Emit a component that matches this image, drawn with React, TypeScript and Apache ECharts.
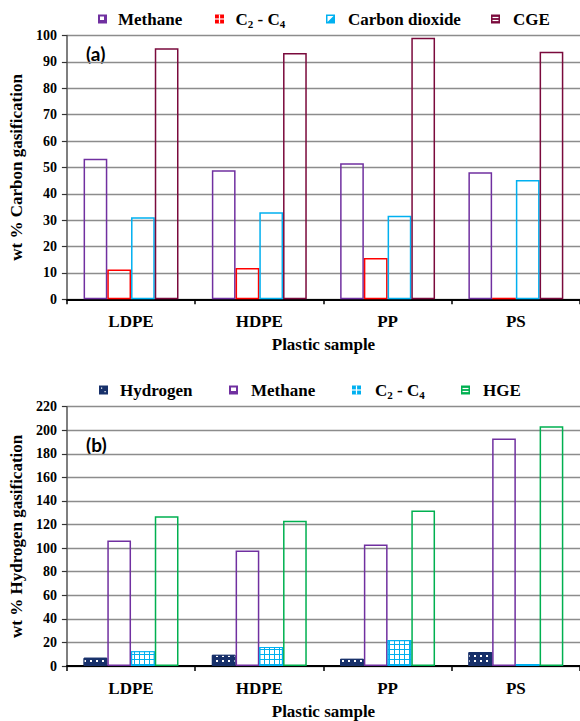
import React, { useEffect, useRef } from "react";
import * as echarts from "echarts";

// ---------- data ----------
const categories = ["LDPE", "HDPE", "PP", "PS"];

// (a) wt % carbon gasification
const carbonMethane = [53.3, 48.9, 51.6, 48.2];
const carbonC2C4 = [11.3, 11.9, 15.7, 0.6];
const carbonCO2 = [31.1, 33.0, 31.7, 45.2];
const carbonCGE = [95.2, 93.4, 99.1, 93.8];

// (b) wt % hydrogen gasification
const hydrogenH2 = [7.0, 9.5, 6.1, 11.8];
const hydrogenMethane = [106.5, 98.1, 103.1, 193.1];
const hydrogenC2C4 = [12.6, 16.2, 22.0, 1.7];
const hydrogenHGE = [127.0, 123.3, 132.0, 203.5];

// axis ranges
const carbonAxis = [0, 100, 10];
const hydrogenAxis = [0, 220, 20];

// ---------- style ----------
const SERIF = "'Liberation Serif', 'Times New Roman', serif";
const PURPLE = "#7030A0";
const RED = "#FF0000";
const CYAN = "#00B0F0";
const MAROON = "#7A0A3C";
const NAVY = "#17306A";
const GREEN = "#00B050";

function outlineBar(name: string, data: number[], color: string, idx: number) {
  return {
    name,
    type: "bar",
    xAxisIndex: idx,
    yAxisIndex: idx,
    data,
    barGap: "0%",
    barCategoryGap: "26%",
    itemStyle: {
      color: "rgba(255,255,255,0)",
      borderColor: color,
      borderWidth: 1.5,
    },
  };
}

function icon(kind: string, x: number, yc: number, color: string) {
  const s = 9;
  const y = yc - s / 2;
  const kids: any[] = [
    { type: "rect", shape: { x, y, width: s, height: s }, style: { fill: color } },
  ];
  const W = "#fff";
  if (kind === "hollowTR") {
    kids.push({ type: "rect", shape: { x: x + 2, y: y + 2, width: 4, height: 3.5 }, style: { fill: W } });
  } else if (kind === "hollowB") {
    kids.push({ type: "rect", shape: { x: x + 2, y: y + 2, width: 5, height: 3.5 }, style: { fill: W } });
  } else if (kind === "grid") {
    kids.push({ type: "line", shape: { x1: x, y1: y + s / 2, x2: x + s, y2: y + s / 2 }, style: { stroke: W, lineWidth: 1.2 } });
    kids.push({ type: "line", shape: { x1: x + s / 2, y1: y, x2: x + s / 2, y2: y + s }, style: { stroke: W, lineWidth: 1.2 } });
  } else if (kind === "diag") {
    kids.push({ type: "polygon", shape: { points: [[x + 1.5, y + s - 1.5], [x + s - 1.5, y + 1.5], [x + 1.5, y + 1.5]] }, style: { fill: W } });
  } else if (kind === "stripes") {
    kids.push({ type: "line", shape: { x1: x + 1.5, y1: y + 3, x2: x + s - 1.5, y2: y + 3 }, style: { stroke: W, lineWidth: 1.2 } });
    kids.push({ type: "line", shape: { x1: x + 1.5, y1: y + 6, x2: x + s - 1.5, y2: y + 6 }, style: { stroke: W, lineWidth: 1.2 } });
  } else if (kind === "dots") {
    kids.push({ type: "rect", shape: { x: x + 2, y: y + 2, width: 1.2, height: 1.2 }, style: { fill: W } });
    kids.push({ type: "rect", shape: { x: x + 5.5, y: y + 5.5, width: 1.2, height: 1.2 }, style: { fill: W } });
  }
  return kids;
}

const legendText = (x: number, yc: number, text: string, rich = false) => ({
  type: "text",
  x,
  y: yc,
  style: rich
    ? {
        text: "C{s|2} - C{s|4}",
        fill: "#000",
        font: `bold 17px ${SERIF}`,
        verticalAlign: "middle",
        rich: {
          s: { fontSize: 11, fontWeight: "bold", fontFamily: SERIF, padding: [9, 0, 0, 0] },
        },
      }
    : { text, fill: "#000", font: `bold 17px ${SERIF}`, verticalAlign: "middle" },
});

function makeXAxis(idx: number) {
  return {
    type: "category",
    gridIndex: idx,
    data: categories,
    name: "Plastic sample",
    nameLocation: "middle",
    nameGap: 37,
    nameTextStyle: { fontFamily: SERIF, fontWeight: "bold", fontSize: 17, color: "#000" },
    axisLine: { lineStyle: { color: "#000", width: 1.8 } },
    axisTick: { show: true, length: 5, lineStyle: { color: "#000", width: 1.5 } },
    axisLabel: { margin: 14, fontFamily: SERIF, fontWeight: "bold", fontSize: 17, color: "#000" },
    splitLine: { show: false },
  };
}

function makeYAxis(idx: number, range: number[], name: string) {
  return {
    type: "value",
    gridIndex: idx,
    min: range[0],
    max: range[1],
    interval: range[2],
    name,
    nameLocation: "middle",
    nameGap: 35,
    nameTextStyle: { fontFamily: SERIF, fontWeight: "bold", fontSize: 17, color: "#000" },
    axisLine: { show: true, lineStyle: { color: "#555", width: 1.5 } },
    axisTick: { show: true, length: 5, lineStyle: { color: "#333", width: 1.2 } },
    axisLabel: { margin: 10, fontFamily: SERIF, fontWeight: "bold", fontSize: 14, color: "#000" },
    splitLine: { show: true, lineStyle: { color: "#8c8c8c", width: 1.3 } },
  };
}

export default function App() {
  const ref = useRef<HTMLDivElement>(null);
  useEffect(() => {
    if (!ref.current) return;
    const chart = echarts.init(ref.current, null, { renderer: "svg" });
    const option: any = {
      animation: false,
      backgroundColor: "#fff",
      grid: [
        { left: 66.5, right: 0, top: 35.5, bottom: 721 - 299.3 },
        { left: 66, right: 0, top: 406.7, bottom: 721 - 668.3 },
      ],
      xAxis: [makeXAxis(0), makeXAxis(1)],
      yAxis: [
        makeYAxis(0, carbonAxis, "wt % Carbon gasification"),
        makeYAxis(1, hydrogenAxis, "wt % Hydrogen gasification"),
      ],
      series: [
        outlineBar("Methane", carbonMethane, PURPLE, 0),
        outlineBar("C2 - C4", carbonC2C4, RED, 0),
        outlineBar("Carbon dioxide", carbonCO2, CYAN, 0),
        outlineBar("CGE", carbonCGE, MAROON, 0),
        {
          name: "Hydrogen",
          type: "bar",
          xAxisIndex: 1,
          yAxisIndex: 1,
          data: hydrogenH2,
          barGap: "0%",
          barCategoryGap: "26%",
          itemStyle: {
            color: NAVY,
            borderColor: NAVY,
            borderWidth: 1,
            decal: { symbol: "rect", symbolSize: 1, color: "#fff", dashArrayX: [1.5, 3.5], dashArrayY: [1.5, 2.5], rotation: 0 },
          },
        },
        outlineBar("Methane (b)", hydrogenMethane, PURPLE, 1),
        {
          name: "C2 - C4 (b)",
          type: "bar",
          xAxisIndex: 1,
          yAxisIndex: 1,
          data: hydrogenC2C4,
          barGap: "0%",
          barCategoryGap: "26%",
          itemStyle: {
            color: CYAN,
            borderColor: CYAN,
            borderWidth: 1.2,
            decal: { symbol: "rect", symbolSize: 1, color: "#fff", dashArrayX: [3.5, 1], dashArrayY: [3.5, 1], rotation: 0 },
          },
        },
        outlineBar("HGE", hydrogenHGE, GREEN, 1),
      ],
      graphic: [
        { type: "text", x: 86, y: 53, style: { text: "(a)", font: "bold 19px Lato, 'Open Sans', sans-serif", fill: "#000", verticalAlign: "middle" } },
        { type: "text", x: 86, y: 444, style: { text: "(b)", font: "bold 19px Lato, 'Open Sans', sans-serif", fill: "#000", verticalAlign: "middle" } },
        // legend (a)
        { type: "group", children: icon("hollowTR", 98, 19, PURPLE) },
        legendText(118, 19, "Methane"),
        { type: "group", children: icon("grid", 215, 19, RED) },
        legendText(235.5, 19, "", true),
        { type: "group", children: icon("diag", 326, 19, CYAN) },
        legendText(348, 19, "Carbon dioxide"),
        { type: "group", children: icon("stripes", 491, 19, MAROON) },
        legendText(513, 19, "CGE"),
        // legend (b)
        { type: "group", children: icon("dots", 99, 390, NAVY) },
        legendText(120, 390, "Hydrogen"),
        { type: "group", children: icon("hollowB", 229, 390, PURPLE) },
        legendText(251, 390, "Methane"),
        { type: "group", children: icon("grid", 352, 390, CYAN) },
        legendText(375, 390, "", true),
        { type: "group", children: icon("stripes", 461, 390, GREEN) },
        legendText(483, 390, "HGE"),
      ],
    };
    chart.setOption(option);
    return () => chart.dispose();
  }, []);
  return (
    <div
      ref={ref}
      style={{ position: "fixed", left: 0, top: 0, width: 580, height: 721, background: "#fff" }}
    />
  );
}
